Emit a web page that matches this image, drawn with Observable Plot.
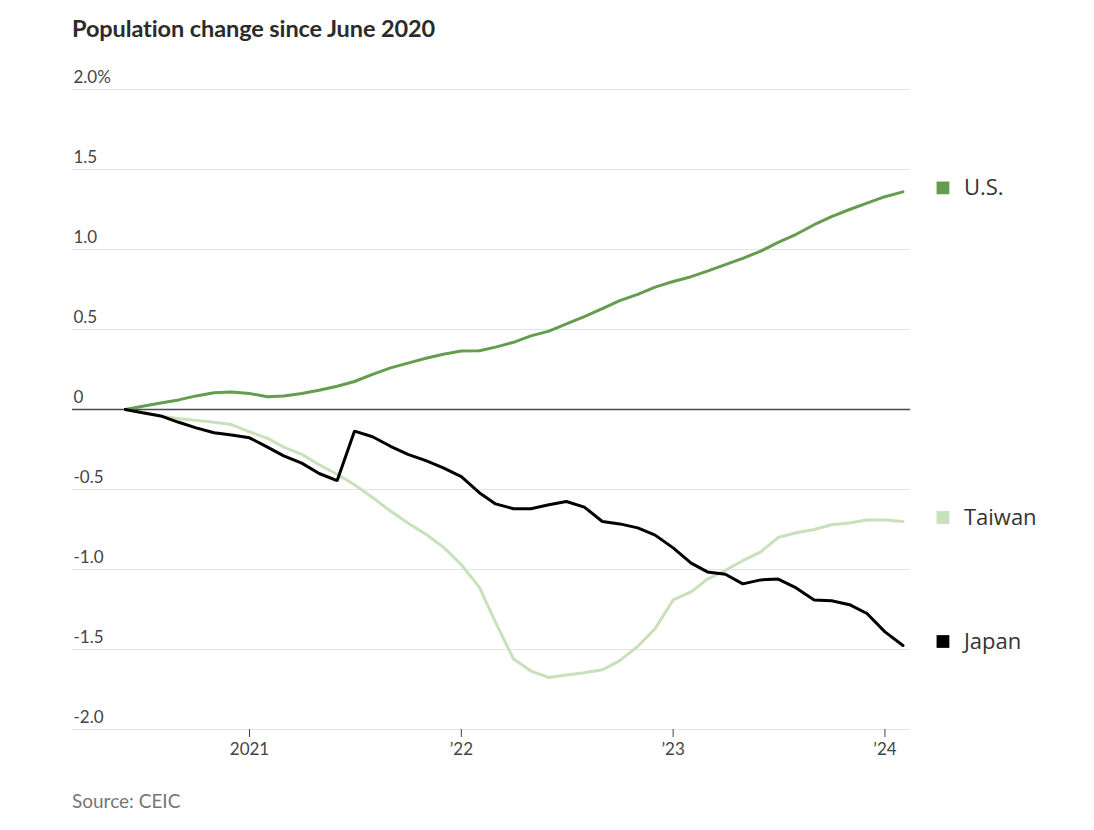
<!DOCTYPE html>
<html>
<head>
<meta charset="utf-8">
<script src="https://cdn.jsdelivr.net/npm/d3@7"></script>
<script src="https://cdn.jsdelivr.net/npm/@observablehq/plot@0.6"></script>
<style>
  html, body { margin: 0; padding: 0; background: #fff; }
  body { width: 1094px; height: 830px; position: relative; font-family: Lato, "Open Sans", sans-serif; }
  #title { position: absolute; left: 72px; top: 14px; font-size: 23.5px; font-weight: 700; color: #2b2b2b; letter-spacing: -0.1px; }
  #chart { position: absolute; left: 0; top: 50px; }
  #source { position: absolute; left: 72px; top: 789px; font-size: 19px; color: #767676; }
</style>
</head>
<body>
<div id="title">Population change since June 2020</div>
<div id="chart"></div>
<div id="source">Source: CEIC</div>
<script>
// Monthly observations, June 2020 to February 2024
const months = d3.utcMonth.range(new Date(Date.UTC(2020, 5, 1)), new Date(Date.UTC(2024, 2, 1)));

const us = [0, 0.02, 0.04, 0.06, 0.085, 0.105, 0.11, 0.10, 0.08, 0.085, 0.10, 0.12, 0.145, 0.175, 0.22, 0.26, 0.29, 0.32, 0.345, 0.365, 0.367, 0.39, 0.42, 0.46, 0.49, 0.535, 0.58, 0.63, 0.68, 0.72, 0.765, 0.80, 0.83, 0.865, 0.905, 0.945, 0.99, 1.045, 1.095, 1.155, 1.205, 1.25, 1.29, 1.33, 1.36];
const taiwan = [0, -0.02, -0.04, -0.058, -0.068, -0.08, -0.094, -0.14, -0.18, -0.235, -0.28, -0.345, -0.405, -0.47, -0.55, -0.635, -0.71, -0.78, -0.86, -0.97, -1.11, -1.33, -1.56, -1.635, -1.675, -1.66, -1.645, -1.627, -1.57, -1.48, -1.37, -1.19, -1.14, -1.06, -1.005, -0.945, -0.89, -0.80, -0.77, -0.75, -0.72, -0.71, -0.69, -0.69, -0.70];
const japan = [0, -0.02, -0.04, -0.08, -0.115, -0.145, -0.16, -0.177, -0.235, -0.29, -0.335, -0.40, -0.445, -0.135, -0.17, -0.23, -0.28, -0.32, -0.365, -0.42, -0.52, -0.59, -0.62, -0.62, -0.595, -0.575, -0.61, -0.70, -0.715, -0.74, -0.785, -0.865, -0.96, -1.015, -1.03, -1.09, -1.065, -1.06, -1.115, -1.19, -1.195, -1.22, -1.275, -1.39, -1.475];

const seriesNames = ["Taiwan", "U.S.", "Japan"];
const seriesColors = ["#c8e0bb", "#659d4e", "#000000"];
const seriesValues = [taiwan, us, japan];

const yTicks = [2, 1.5, 1, 0.5, 0, -0.5, -1, -1.5, -2];
const yTickLabels = ["2.0%", "1.5", "1.0", "0.5", "0", "-0.5", "-1.0", "-1.5", "-2.0"];
const xTicks = [new Date(Date.UTC(2021, 0, 1)), new Date(Date.UTC(2022, 0, 1)), new Date(Date.UTC(2023, 0, 1)), new Date(Date.UTC(2024, 0, 1))];
const xTickLabels = ["2021", "\u201922", "\u201923", "\u201924"];

const rows = seriesNames.flatMap((name, i) => months.map((m, j) => ({series: name, date: m, value: seriesValues[i][j]})));
const lastRows = seriesNames.map((name, i) => ({series: name, date: months[months.length - 1], value: seriesValues[i][months.length - 1]}));

const chart = Plot.plot({
  width: 1094,
  height: 720,
  marginLeft: 72,
  marginRight: 184,
  marginTop: 39,
  marginBottom: 41,
  style: {fontFamily: "Lato, 'Open Sans', sans-serif", fontSize: "17px", color: "#444", background: "#fff", overflow: "visible"},
  x: {type: "utc", domain: [new Date(Date.UTC(2020, 2, 2)), new Date(Date.UTC(2024, 1, 14))]},
  y: {domain: [-2, 2]},
  color: {domain: seriesNames, range: seriesColors},
  marks: [
    Plot.ruleY(yTicks, {stroke: "#e3e3e3", strokeWidth: 1.2}),
    Plot.ruleY([0], {stroke: "#4a4a4a", strokeWidth: 1.4}),
    Plot.axisY({ticks: yTicks, tickFormat: (d) => yTickLabels[yTicks.indexOf(d)], anchor: "left", tickSize: 0, tickPadding: -1, textAnchor: "start", dy: -12, fontSize: 17, fill: "#444", label: null}),
    Plot.axisX({ticks: xTicks, tickFormat: (d) => xTickLabels[xTicks.findIndex(t => +t === +d)], anchor: "bottom", tickSize: 8, tickPadding: 5, stroke: "#444", fill: "#444", fontSize: 17, label: null}),
    Plot.line(rows, {x: "date", y: "value", z: "series", stroke: "series", strokeWidth: 3, strokeLinejoin: "miter", curve: "linear"}),
    Plot.dot(lastRows, {x: "date", y: "value", fill: "series", symbol: "square", r: 7.2, dx: 40, dy: -4}),
    Plot.text(lastRows, {x: "date", y: "value", text: "series", dx: 61, dy: -4, textAnchor: "start", fontSize: 22, fill: "#333", fontFamily: "'Open Sans', Lato, sans-serif"})
  ]
});
document.getElementById("chart").appendChild(chart);
</script>
</body>
</html>
